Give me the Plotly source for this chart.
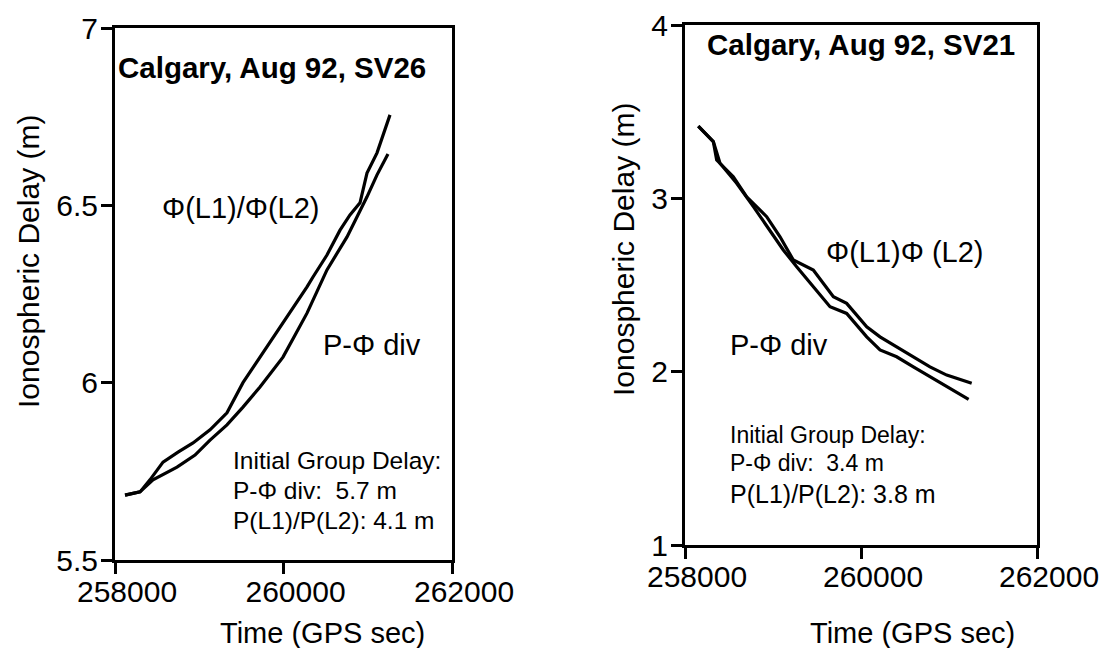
import plotly.graph_objects as go

W, H = 1103, 648

# ---------------- data ----------------
# Left panel: Calgary, Aug 92, SV26
sv26_phi_t = [258119, 258297, 258415, 258570, 258748, 258926, 259128, 259329, 259519,
              259662, 259804, 260041, 260160, 260279, 260350, 260516, 260671, 260789,
              260908, 260991, 261110, 261205, 261264]
sv26_phi_d = [5.683, 5.692, 5.726, 5.776, 5.804, 5.830, 5.867, 5.915, 6.000,
              6.050, 6.101, 6.185, 6.225, 6.270, 6.298, 6.360, 6.430, 6.473,
              6.507, 6.591, 6.648, 6.712, 6.755]
sv26_div_t = [258119, 258297, 258451, 258736, 258950, 259128, 259329, 259519, 259721,
              259863, 259994, 260136, 260279, 260516, 260754, 260991, 261110, 261240]
sv26_div_d = [5.683, 5.692, 5.726, 5.762, 5.796, 5.838, 5.881, 5.931, 5.988,
              6.030, 6.072, 6.134, 6.196, 6.318, 6.411, 6.524, 6.586, 6.645]

# Right panel: Calgary, Aug 92, SV21
sv21_phi_t = [258151, 258322, 258360, 258549, 258701, 258928, 259080, 259231, 259458,
              259686, 259837, 260065, 260216, 260405, 260595, 260784, 260974, 261258]
sv21_phi_d = [3.417, 3.327, 3.221, 3.125, 3.009, 2.894, 2.778, 2.644, 2.586,
              2.432, 2.394, 2.259, 2.201, 2.144, 2.086, 2.028, 1.980, 1.933]
sv21_div_t = [258151, 258322, 258398, 258587, 258777, 258966, 259117, 259269, 259458,
              259648, 259837, 260065, 260216, 260405, 260595, 260784, 260974, 261223]
sv21_div_d = [3.417, 3.327, 3.202, 3.087, 2.952, 2.817, 2.702, 2.605, 2.490,
              2.375, 2.336, 2.201, 2.125, 2.086, 2.028, 1.971, 1.913, 1.840]

x_ticks = [258000, 260000, 262000]
y_ticks_left = [5.5, 6, 6.5, 7]
y_ticks_right = [1, 2, 3, 4]

FONT = "Liberation Sans, Arial, Helvetica, sans-serif"
NB = "\u00a0"


def px(x):
    return x / W


def py(y):
    return 1 - y / H


fig = go.Figure()
line = dict(color="black", width=3.2)
fig.add_trace(go.Scatter(x=sv26_phi_t, y=sv26_phi_d, mode="lines", line=line, xaxis="x", yaxis="y"))
fig.add_trace(go.Scatter(x=sv26_div_t, y=sv26_div_d, mode="lines", line=line, xaxis="x", yaxis="y"))
fig.add_trace(go.Scatter(x=sv21_phi_t, y=sv21_phi_d, mode="lines", line=line, xaxis="x2", yaxis="y2"))
fig.add_trace(go.Scatter(x=sv21_div_t, y=sv21_div_d, mode="lines", line=line, xaxis="x2", yaxis="y2"))

axis_common = dict(showline=True, linecolor="black", linewidth=3, mirror=True,
                   showgrid=False, zeroline=False, ticks="outside", ticklen=11,
                   tickwidth=3, tickcolor="black", automargin=False,
                   tickfont=dict(family=FONT, size=30, color="black"))

fig.update_layout(
    width=W, height=H,
    margin=dict(l=0, r=0, t=0, b=0, autoexpand=False),
    paper_bgcolor="white", plot_bgcolor="white",
    showlegend=False,
    font=dict(family=FONT, color="black"),
    xaxis=dict(domain=[px(115), px(452)], range=[258000, 262000], tickvals=x_ticks,
               tickformat="d", anchor="y", ticklabelshift=12, ticklabelstandoff=-8,
               **axis_common),
    yaxis=dict(domain=[py(560), py(28)], range=[5.5, 7], tickvals=y_ticks_left,
               anchor="x", ticklabelstandoff=-3, **axis_common),
    xaxis2=dict(domain=[px(685), px(1037)], range=[258000, 262000], tickvals=x_ticks,
                tickformat="d", anchor="y2", ticklabelshift=12, ticklabelstandoff=-8,
                **axis_common),
    yaxis2=dict(domain=[py(545), py(25)], range=[1, 4], tickvals=y_ticks_right,
                anchor="x2", ticklabelstandoff=-3, **axis_common),
)


def note(x, y, text, size=28, bold=False, xanchor="left", angle=0):
    if bold:
        text = "<b>" + text + "</b>"
    fig.add_annotation(x=px(x), y=py(y), xref="paper", yref="paper", text=text,
                       showarrow=False, xanchor=xanchor, yanchor="middle",
                       textangle=angle, borderpad=0,
                       font=dict(family=FONT, size=size, color="black"))


# axis titles
note(322, 633, "Time (GPS sec)", size=29, xanchor="center")
note(912, 633, "Time (GPS sec)", size=29, xanchor="center")
note(28, 262, "Ionospheric Delay (m)", size=30, xanchor="center", angle=-90)
note(624, 250, "Ionospheric Delay (m)", size=30, xanchor="center", angle=-90)

# left panel texts
note(117, 67, "Calgary, Aug 92, SV26", size=29.5, bold=True)
note(161, 208, "Φ(L1)/Φ(L2)", size=29)
note(322, 345, "P-Φ div", size=29)
note(232, 460, "Initial Group Delay:", size=24.5)
note(232, 490, "P-Φ div:" + NB + NB + "5.7 m", size=24.5)
note(232, 520, "P(L1)/P(L2): 4.1 m", size=24.5)

# right panel texts
note(706, 45, "Calgary, Aug 92, SV21", size=29.5, bold=True)
note(825, 252, "Φ(L1)Φ" + NB + "(L2)", size=29)
note(729, 345, "P-Φ div", size=29)
note(729, 435, "Initial Group Delay:", size=23)
note(729, 463, "P-Φ div:" + NB + NB + "3.4 m", size=23)
note(729, 494, "P(L1)/P(L2): 3.8 m", size=25)

fig.write_html("out.html")
